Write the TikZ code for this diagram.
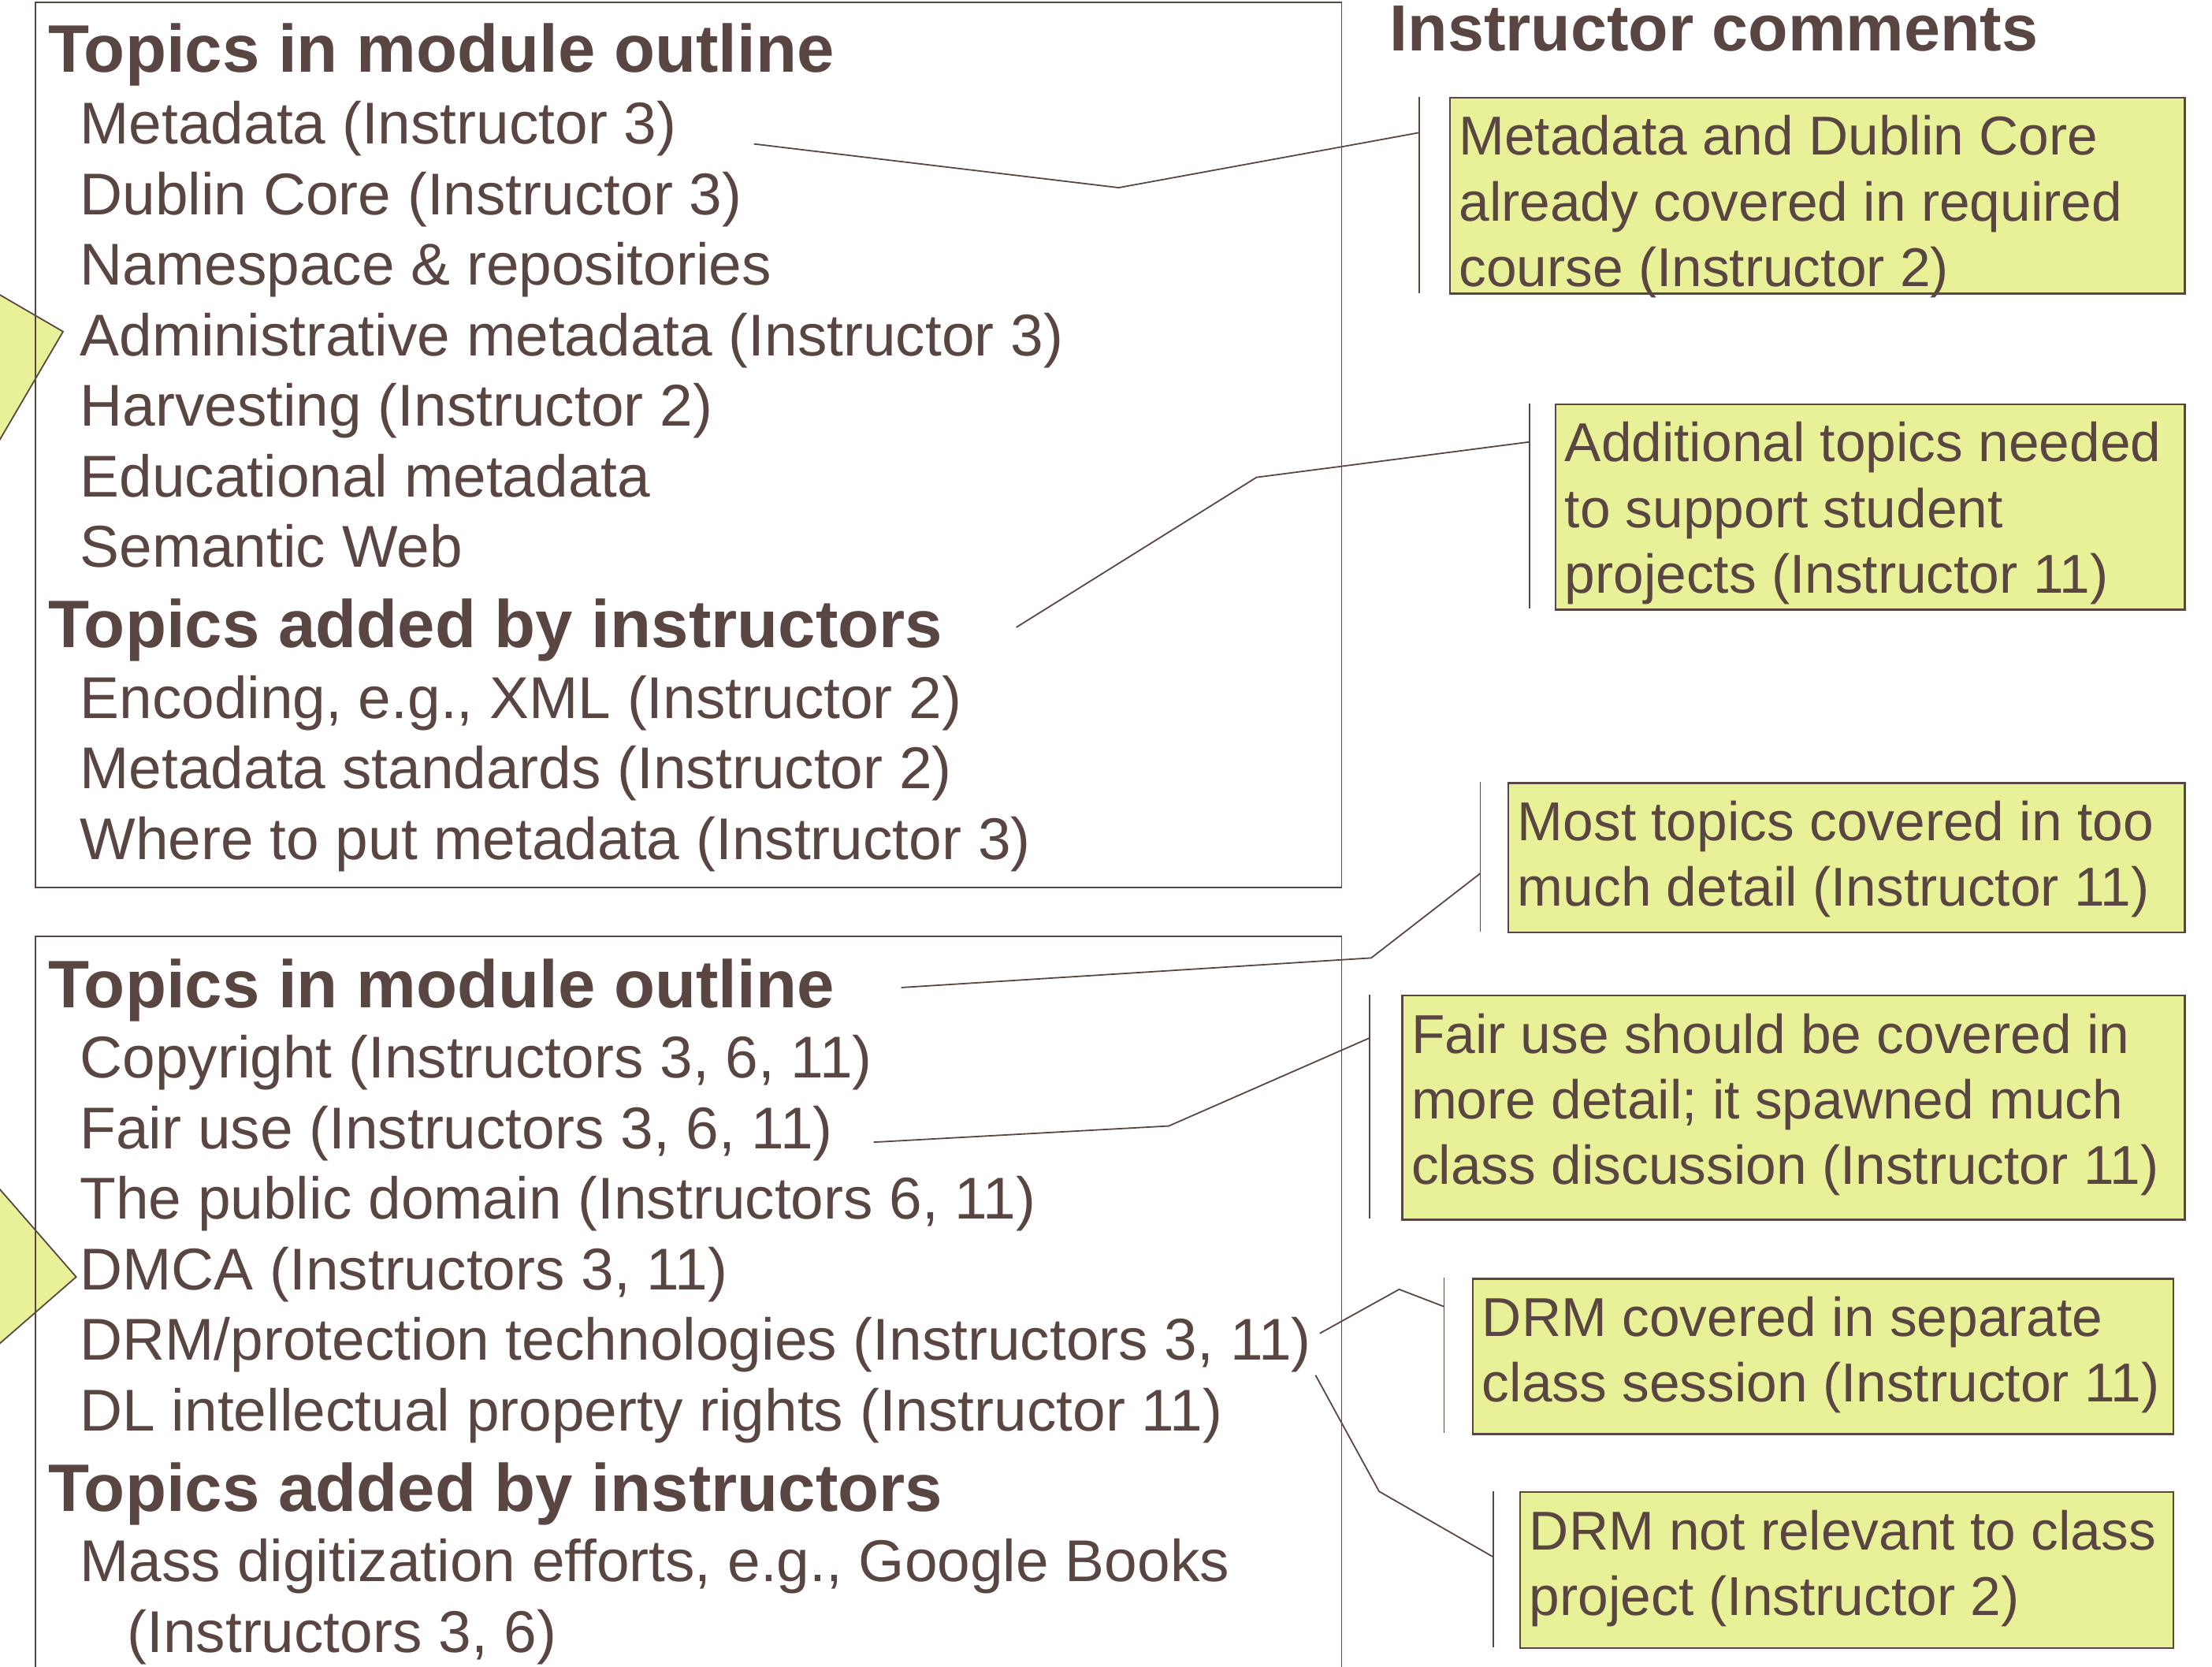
\documentclass[tikz,border=0pt]{standalone}
\usepackage{fontspec}
\setmainfont{Liberation Sans}
\usetikzlibrary{positioning,calc}
\definecolor{ink}{RGB}{89,69,65}
\definecolor{lime}{RGB}{232,241,152}
\tikzset{x=1pt, y=-1pt}
\tikzstyle{txt}=[anchor=base west, inner sep=0pt, text=ink, font=\fontsize{41.8}{50}\selectfont]
\tikzstyle{hd}=[txt, font=\fontsize{47.6}{56}\selectfont\bfseries]
\tikzstyle{nt}=[txt, font=\fontsize{38.8}{46.5}\selectfont]
\tikzstyle{note}=[draw=ink, fill=lime, line width=1.3pt, anchor=north west, inner sep=0pt]
\tikzstyle{frame}=[draw=ink, line width=1pt]
\tikzstyle{wire}=[draw=ink, line width=1pt]
\tikzstyle{bar}=[draw=ink, line width=1pt]

\begin{document}
\begin{tikzpicture}
        \useasboundingbox (0,0) rectangle (1568,1181);
        \draw[frame, fill=lime] (-10,203.2) -- (44.7,235) -- (-10,328.5) -- cycle;
        \draw[frame, fill=lime] (-10,831.5) -- (54,905) -- (-10,960.7) -- cycle;
        \draw[frame] (25,1.5) rectangle (951,629);
        \draw[frame] (25,663.5) rectangle (951,1200);

        \node[hd] (h1) at (34,51) {Topics in module outline};
        \foreach \t [count=\i] in {Metadata (Instructor 3), Dublin Core (Instructor 3), Namespace \& repositories, Administrative metadata (Instructor 3), Harvesting (Instructor 2), Educational metadata, Semantic Web}
            \node[txt] (a\i) at (56.5,{52+50*\i}) {\t};
        \node[hd] (h2) at (34,459) {Topics added by instructors};
        \foreach \t [count=\i] in {{Encoding, e.g., XML (Instructor 2)}, Metadata standards (Instructor 2), Where to put metadata (Instructor 3)}
            \node[txt] (b\i) at (56.5,{459+50*\i}) {\t};

        \node[hd] (h3) at (34,714) {Topics in module outline};
        \foreach \t [count=\i] in {{Copyright (Instructors 3, 6, 11)}, {Fair use (Instructors 3, 6, 11)}, {The public domain (Instructors 6, 11)}, {DMCA (Instructors 3, 11)}, {DRM/protection technologies (Instructors 3, 11)}, DL intellectual property rights (Instructor 11)}
            \node[txt] (c\i) at (56.5,{714+50*\i}) {\t};
        \node[hd] (h4) at (34,1071) {Topics added by instructors};
        \node[txt] (d1) at (56.5,1121) {Mass digitization efforts, e.g., Google Books};
        \node[txt] (d2) at (90,1171) {(Instructors 3, 6)};

        \node[hd, font=\fontsize{46.2}{56}\selectfont\bfseries] (hc) at (985,36) {Instructor comments};

        \node[note, minimum width=521, minimum height=139] (n1) at (1027,68.5) {};
        \node[note, minimum width=446, minimum height=145.6] (n2) at (1102,285.8) {};
        \node[note, minimum width=479.4, minimum height=105.7] (n3) at (1068.6,554.3) {};
        \node[note, minimum width=554.7, minimum height=158.8] (n4) at (993.3,705) {};
        \node[note, minimum width=496.5, minimum height=110.1] (n5) at (1043.5,905.7) {};
        \node[note, minimum width=463, minimum height=110.5] (n6) at (1077,1056.7) {};

        \foreach \t [count=\i from 0] in {Metadata and Dublin Core, already covered in required, course (Instructor 2)}
            \node[nt] (n1t\i) at ($(n1.north west)+(7,{41.5+46.5*\i})$) {\t};
        \foreach \t [count=\i from 0] in {Additional topics needed, to support student, projects (Instructor 11)}
            \node[nt] (n2t\i) at ($(n2.north west)+(7,{41.5+46.5*\i})$) {\t};
        \foreach \t [count=\i from 0] in {Most topics covered in too, much detail (Instructor 11)}
            \node[nt] (n3t\i) at ($(n3.north west)+(7,{41.5+46.5*\i})$) {\t};
        \foreach \t [count=\i from 0] in {Fair use should be covered in, more detail; it spawned much, class discussion (Instructor 11)}
            \node[nt] (n4t\i) at ($(n4.north west)+(7,{41.5+46.5*\i})$) {\t};
        \foreach \t [count=\i from 0] in {DRM covered in separate, class session (Instructor 11)}
            \node[nt] (n5t\i) at ($(n5.north west)+(7,{41.5+46.5*\i})$) {\t};
        \foreach \t [count=\i from 0] in {DRM not relevant to class, project (Instructor 2)}
            \node[nt] (n6t\i) at ($(n6.north west)+(7,{41.5+46.5*\i})$) {\t};

        \draw[bar] (1006,68.5) -- (1006,207.6);
        \draw[bar] (1084.2,285.8) -- (1084.2,431.4);
        \draw[bar] (1049.3,554.3) -- (1049.3,660);
        \draw[bar] (970.9,705) -- (970.9,863.8);
        \draw[bar] (1023.6,905.7) -- (1023.6,1015.8);
        \draw[bar] (1058.4,1056.7) -- (1058.4,1167.2);

        \coordinate (p1) at (534.4,102);   \coordinate (k1) at (793,133);     \coordinate (e1) at (1006,94);
        \coordinate (p2) at (720.4,444.6); \coordinate (k2) at (890.7,338.3); \coordinate (e2) at (1084.2,313.2);
        \coordinate (p3) at (638.8,699.9); \coordinate (k3) at (972,678.9);   \coordinate (e3) at (1049.3,619);
        \coordinate (p4) at (619.3,809.5); \coordinate (k4) at (828.5,798);   \coordinate (e4) at (970.9,735.6);
        \coordinate (p5) at (935.5,945);   \coordinate (k5) at (991.8,913.8); \coordinate (e5) at (1023.6,926);
        \coordinate (p6) at (932.5,974.6); \coordinate (k6) at (977.6,1057);  \coordinate (e6) at (1058.4,1103.4);
        \foreach \i in {1,...,6}
            \draw[wire] (p\i) -- (k\i) -- (e\i);
\end{tikzpicture}
\end{document}
